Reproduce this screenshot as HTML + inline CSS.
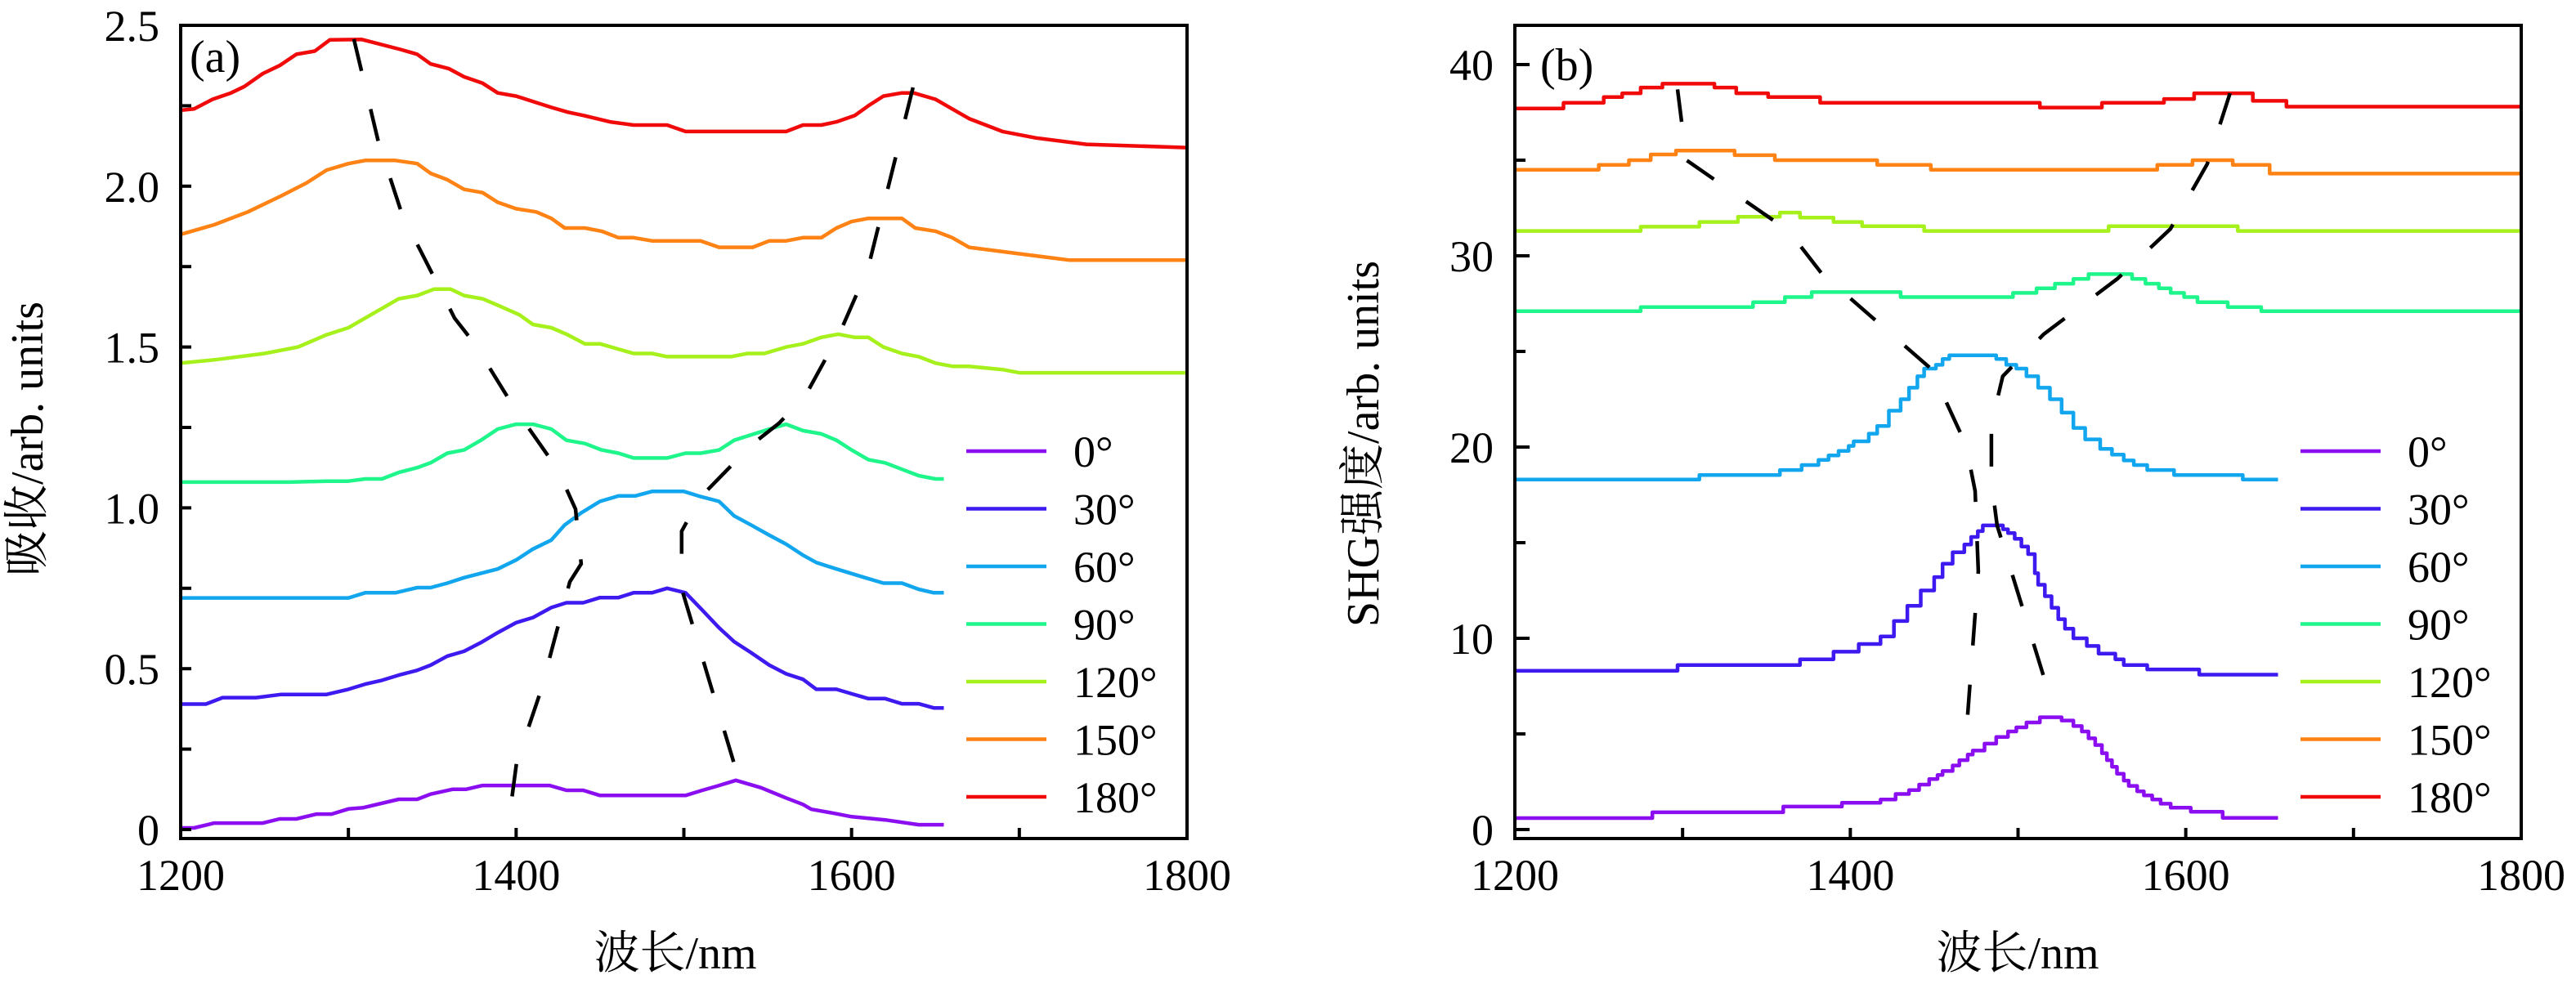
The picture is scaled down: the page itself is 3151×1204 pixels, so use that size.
<!DOCTYPE html>
<html><head><meta charset="utf-8"><style>
html,body{margin:0;padding:0;background:#fff;}
svg{display:block;font-family:"Liberation Serif","Noto Serif CJK SC",serif;}
</style></head><body>
<svg id="fig" width="3151" height="1204" viewBox="0 0 3151 1204" xmlns="http://www.w3.org/2000/svg">
<rect width="3151" height="1204" fill="#fff"/>
<g id="panelA"></g>
<g id="panelB"></g>
<text transform="translate(52,537) rotate(-90)" text-anchor="middle" font-size="56">吸收/arb. units</text>
<text transform="translate(1686,543) rotate(-90)" text-anchor="middle" font-size="56">SHG强度/arb. units</text>
<text x="826" y="1185" text-anchor="middle" font-size="56">波长/nm</text>
<text x="2468" y="1185" text-anchor="middle" font-size="56">波长/nm</text>
<text x="232" y="88" font-size="56">(a)</text>
<text x="1884" y="98" font-size="56">(b)</text>
</svg>
<script>
const angles = ["0°","30°","60°","90°","120°","150°","180°"];
const colors = ["#8a0ef0","#3f1af0","#12a6ee","#1ef58a","#a6f01c","#ff8214","#f00a0a"];
const xTicks = [1200,1400,1600,1800];
const yTicksA = [0,0.5,1.0,1.5,2.0,2.5];
const yTickLabelsA = ["0","0.5","1.0","1.5","2.0","2.5"];
const yTicksB = [0,10,20,30,40];
const yTickLabelsB = ["0","10","20","30","40"];

const absorb0 = [[1200,0.005],[1208,0.005],[1220,0.02],[1249,0.02],[1259,0.033],[1269,0.033],[1281,0.048],[1290,0.048],[1300,0.064],[1309,0.068],[1330,0.094],[1341,0.094],[1349,0.11],[1362,0.125],[1370,0.125],[1380,0.137],[1420,0.137],[1430,0.122],[1440,0.122],[1450,0.106],[1501,0.106],[1511,0.122],[1521,0.137],[1531,0.153],[1546,0.13],[1561,0.098],[1571,0.078],[1576,0.063],[1590,0.05],[1600,0.04],[1620,0.03],[1640,0.015],[1655,0.015]];
const absorb30 = [[1200,0.39],[1215,0.39],[1225,0.41],[1245,0.41],[1260,0.42],[1287,0.42],[1300,0.436],[1310,0.452],[1320,0.464],[1330,0.48],[1341,0.495],[1349,0.511],[1359,0.539],[1369,0.554],[1379,0.581],[1389,0.612],[1400,0.643],[1410,0.659],[1421,0.69],[1430,0.705],[1440,0.705],[1450,0.721],[1461,0.721],[1470,0.736],[1481,0.736],[1490,0.75],[1501,0.736],[1511,0.682],[1521,0.627],[1530,0.584],[1540,0.55],[1551,0.511],[1561,0.484],[1571,0.467],[1579,0.436],[1591,0.436],[1600,0.422],[1610,0.407],[1620,0.407],[1630,0.391],[1640,0.391],[1649,0.378],[1655,0.378]];
const absorb60 = [[1200,0.72],[1300,0.72],[1310,0.736],[1328,0.736],[1341,0.752],[1349,0.752],[1359,0.766],[1369,0.783],[1389,0.81],[1400,0.838],[1410,0.872],[1421,0.90],[1429,0.947],[1439,0.985],[1450,1.02],[1461,1.037],[1471,1.037],[1481,1.051],[1500,1.051],[1510,1.035],[1521,1.02],[1530,0.975],[1540,0.947],[1551,0.915],[1561,0.887],[1571,0.853],[1579,0.83],[1591,0.81],[1608,0.783],[1619,0.766],[1630,0.766],[1640,0.747],[1649,0.736],[1655,0.736]];
const absorb90 = [[1200,1.08],[1265,1.08],[1287,1.083],[1300,1.083],[1310,1.09],[1320,1.09],[1330,1.11],[1341,1.125],[1349,1.14],[1359,1.17],[1369,1.18],[1379,1.21],[1389,1.245],[1400,1.26],[1410,1.26],[1421,1.245],[1430,1.21],[1441,1.20],[1451,1.18],[1461,1.17],[1470,1.155],[1490,1.155],[1501,1.17],[1510,1.17],[1521,1.18],[1530,1.21],[1551,1.245],[1561,1.26],[1571,1.24],[1582,1.23],[1591,1.21],[1600,1.18],[1610,1.15],[1620,1.14],[1630,1.12],[1640,1.10],[1650,1.09],[1655,1.09]];
const absorb120 = [[1200,1.45],[1220,1.46],[1250,1.48],[1270,1.50],[1287,1.538],[1300,1.56],[1310,1.59],[1320,1.62],[1330,1.65],[1341,1.66],[1351,1.68],[1361,1.68],[1369,1.66],[1380,1.65],[1389,1.63],[1402,1.60],[1410,1.57],[1421,1.56],[1430,1.54],[1441,1.51],[1450,1.51],[1470,1.48],[1481,1.48],[1490,1.47],[1528,1.47],[1538,1.48],[1548,1.48],[1561,1.50],[1571,1.51],[1582,1.53],[1592,1.54],[1602,1.53],[1610,1.53],[1619,1.50],[1630,1.48],[1640,1.47],[1650,1.45],[1660,1.44],[1670,1.44],[1690,1.43],[1700,1.42],[1800,1.42]];
const absorb150 = [[1200,1.85],[1220,1.88],[1240,1.92],[1260,1.97],[1275,2.01],[1287,2.05],[1300,2.07],[1310,2.08],[1328,2.08],[1341,2.07],[1349,2.04],[1359,2.02],[1369,1.99],[1380,1.98],[1389,1.95],[1400,1.93],[1412,1.92],[1421,1.90],[1429,1.87],[1441,1.87],[1451,1.86],[1461,1.84],[1470,1.84],[1481,1.83],[1510,1.83],[1521,1.81],[1541,1.81],[1551,1.83],[1561,1.83],[1571,1.84],[1582,1.84],[1591,1.87],[1600,1.89],[1610,1.90],[1630,1.90],[1638,1.87],[1650,1.86],[1660,1.84],[1670,1.81],[1700,1.79],[1730,1.77],[1800,1.77]];
const absorb180 = [[1200,2.236],[1208,2.24],[1219,2.27],[1230,2.29],[1238,2.31],[1249,2.35],[1259,2.375],[1269,2.41],[1280,2.42],[1289,2.455],[1308,2.456],[1331,2.425],[1341,2.41],[1349,2.38],[1360,2.365],[1369,2.34],[1380,2.32],[1389,2.29],[1400,2.28],[1412,2.26],[1421,2.245],[1431,2.23],[1440,2.22],[1456,2.20],[1470,2.19],[1490,2.19],[1501,2.17],[1561,2.17],[1571,2.19],[1582,2.19],[1591,2.20],[1602,2.22],[1610,2.25],[1619,2.28],[1630,2.29],[1637,2.29],[1650,2.27],[1660,2.24],[1670,2.21],[1690,2.17],[1710,2.15],[1740,2.13],[1800,2.12]];
const absorbSeries = [absorb0,absorb30,absorb60,absorb90,absorb120,absorb150,absorb180];
const guideA1 = [[1303.3,2.457],[1317.9,2.137],[1332.1,1.911],[1352.5,1.702],[1363.3,1.590],[1375.4,1.509],[1398.3,1.316],[1424.7,1.12],[1435.4,0.996],[1438.8,0.826],[1432.0,0.770],[1414.9,0.434],[1400.3,0.208],[1396.9,0.076]];
const guideA2 = [[1636.6,2.307],[1609.8,1.745],[1592.8,1.542],[1572.3,1.347],[1556.7,1.263],[1540.6,1.197],[1509.5,1.031],[1498.7,0.927],[1498.7,0.749],[1533.3,0.147]];

const shg0 = [[1200,0.6],[1282,0.9],[1360,1.2],[1395,1.4],[1418,1.57],[1427,1.86],[1435,2.06],[1441,2.35],[1447,2.64],[1452,2.85],[1455,3.06],[1461,3.35],[1465,3.63],[1470,3.92],[1473,4.13],[1480,4.49],[1487,4.84],[1494,5.13],[1499,5.34],[1505,5.6],[1513,5.87],[1526,5.7],[1533,5.41],[1538,5.13],[1542,4.77],[1546,4.42],[1550,3.99],[1553,3.63],[1556,3.28],[1559,2.92],[1563,2.56],[1566,2.28],[1571,2.0],[1575,1.78],[1580,1.57],[1585,1.35],[1591,1.14],[1603,0.93],[1622,0.61],[1655,0.61]];
const shg30 = [[1200,8.3],[1297,8.6],[1370,8.9],[1390,9.3],[1405,9.7],[1418,10.1],[1426,10.9],[1434,11.7],[1442,12.5],[1450,13.2],[1455,13.9],[1461,14.5],[1468,14.9],[1472,15.3],[1476,15.6],[1479,15.9],[1491,15.7],[1494,15.5],[1498,15.2],[1502,14.8],[1506,14.4],[1510,13.4],[1512,12.8],[1516,12.2],[1520,11.6],[1524,11.0],[1528,10.5],[1533,10.0],[1541,9.6],[1548,9.2],[1558,8.9],[1563,8.6],[1577,8.37],[1608,8.1],[1655,8.1]];
const shg60 = [[1200,18.3],[1310,18.54],[1358,18.8],[1371,19.06],[1381,19.33],[1387,19.56],[1393,19.8],[1399,20.06],[1402,20.3],[1411,20.7],[1416,21.1],[1423,21.9],[1430,22.5],[1435,23.1],[1440,23.7],[1444,24.1],[1451,24.3],[1455,24.6],[1459,24.8],[1487,24.6],[1493,24.3],[1499,24.1],[1505,23.7],[1512,23.1],[1519,22.5],[1526,21.8],[1533,21.0],[1540,20.4],[1549,19.9],[1556,19.6],[1563,19.3],[1569,19.06],[1577,18.8],[1593,18.54],[1634,18.3],[1655,18.3]];
const shg90 = [[1200,27.1],[1275,27.32],[1342,27.57],[1361,27.84],[1377,28.1],[1430,27.84],[1497,28.06],[1511,28.3],[1522,28.54],[1533,28.79],[1542,29.04],[1568,28.79],[1576,28.54],[1584,28.3],[1591,28.06],[1599,27.84],[1607,27.57],[1625,27.32],[1645,27.1],[1800,27.1]];
const shg120 = [[1200,31.3],[1275,31.52],[1310,31.77],[1333,32.04],[1358,32.26],[1370,32.0],[1390,31.77],[1407,31.55],[1444,31.3],[1554,31.55],[1631,31.3],[1800,31.3]];
const shg150 = [[1200,34.5],[1250,34.75],[1268,35.0],[1281,35.3],[1296,35.5],[1331,35.26],[1355,35.0],[1416,34.75],[1448,34.5],[1583,34.75],[1604,35.0],[1628,34.75],[1650,34.3],[1800,34.3]];
const shg180 = [[1200,37.7],[1229,38.0],[1253,38.3],[1264,38.5],[1275,38.8],[1288,39.0],[1319,38.8],[1332,38.5],[1351,38.3],[1382,38.0],[1513,37.75],[1550,38.0],[1587,38.2],[1605,38.5],[1640,38.1],[1660,37.8],[1800,37.8]];
const shgSeries = [shg0,shg30,shg60,shg90,shg120,shg150,shg180];
const guideB1 = [[1297.0,38.7],[1302.3,35.0],[1363.3,31.3],[1382.7,29.1],[1448.0,24.1],[1469.0,20.1],[1474.4,17.7],[1476.3,13.5],[1470.0,6.0]];
const guideB2 = [[1626.4,38.5],[1612.8,34.8],[1590.8,31.4],[1559.2,28.8],[1515.3,25.9],[1490.9,23.7],[1484.1,21.2],[1484.1,18.2],[1487.5,15.9],[1519.7,6.75]];

const NS = "http://www.w3.org/2000/svg";
function el(tag, attrs, parent){ const e=document.createElementNS(NS,tag); for(const k in attrs) e.setAttribute(k,attrs[k]); parent.appendChild(e); return e; }

function makePanel(g, x0, x1, yTicks, yLabels, yMin, yMax, series, guides, step, minorY, key){
  const top=31, bot=1026;
  const xScale = nm => x0 + (nm-1200)*(x1-x0)/600;
  const yScale = v => 1015 - (v)*(1015-31)/yMax;
  // series
  series.forEach((s,i)=>{
    let d = "M"+xScale(s[0][0]).toFixed(1)+","+yScale(s[0][1]).toFixed(1);
    for(let j=1;j<s.length;j++){
      const X=xScale(s[j][0]).toFixed(1), Y=yScale(s[j][1]).toFixed(1);
      if(step){ d += "H"+X+"V"+Y; } else { d += "L"+X+","+Y; }
    }
    const p = el("path",{d:d,fill:"none",stroke:colors[i],"stroke-width":"4.5","stroke-linejoin":"round"},g);
    
    
  });
  guides.forEach((s,i)=>{
    const d = "M"+s.map(p=>xScale(p[0]).toFixed(1)+","+yScale(p[1]).toFixed(1)).join("L");
    const p = el("path",{d:d,fill:"none",stroke:"#000","stroke-width":"4.5","stroke-dasharray":"40 48"},g);
    
    
  });
  // frame
  const fr = el("rect",{x:x0,y:top,width:x1-x0,height:bot-top,fill:"none",stroke:"#000","stroke-width":"4"},g);
  
  
  // x ticks
  for(let nm=1200; nm<=1800; nm+=100){
    const X=xScale(nm);
    const t=el("line",{x1:X,x2:X,y1:bot,y2:bot-13,stroke:"#000","stroke-width":"4"},g);
    
    
  }
  xTicks.forEach(nm=>{
    const t=el("text",{x:xScale(nm),y:1089,"text-anchor":"middle","font-size":"54"},g);
    t.textContent=nm;
    
    
  });
  // y ticks
  minorY.forEach(v=>{
    const Y=yScale(v);
    const t=el("line",{x1:x0,x2:x0+13,y1:Y,y2:Y,stroke:"#000","stroke-width":"4"},g);
    
    
  });
  yTicks.forEach((v,i)=>{
    const Y=yScale(v);
    const t=el("line",{x1:x0,x2:x0+(step?18:13),y1:Y,y2:Y,stroke:"#000","stroke-width":"4"},g);
    
    
    const l=el("text",{x:x0-26,y:Y+19,"text-anchor":"end","font-size":"54"},g);
    l.textContent=yLabels[i];
    
    
  });
  // legend
  angles.forEach((a,i)=>{
    const Y=552+i*70.5;
    const ln=el("line",{x1:x1-270,x2:x1-172,y1:Y,y2:Y,stroke:colors[i],"stroke-width":"4.5"},g);
    
    
    const tx=el("text",{x:x1-139,y:Y+19,"font-size":"54"},g);
    tx.textContent=a;
    
    
  });
}
makePanel(document.getElementById("panelA"),221,1452,yTicksA,yTickLabelsA,0,2.5,absorbSeries,[guideA1,guideA2],false,[0.25,0.75,1.25,1.75,2.25],"absorption");
makePanel(document.getElementById("panelB"),1853,3084,yTicksB,yTickLabelsB,0,42.05,shgSeries,[guideB1,guideB2],true,[5,15,25,35],"shg");
</script>
</body></html>
